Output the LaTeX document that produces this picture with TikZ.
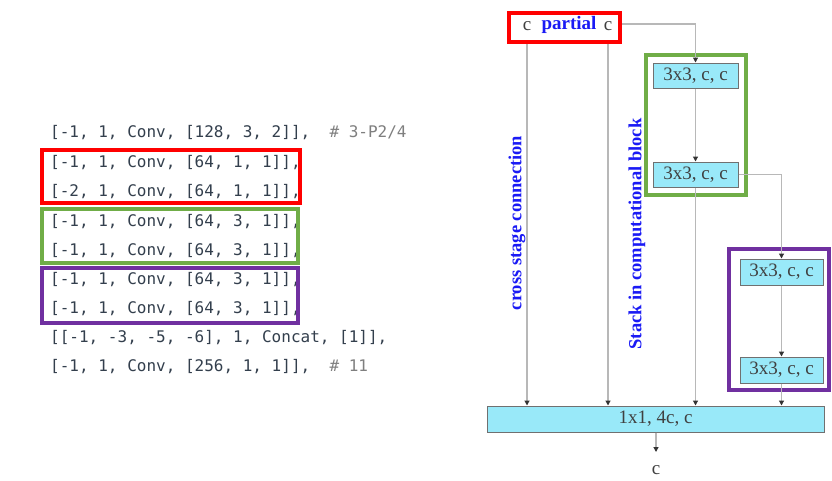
\documentclass[tikz,border=0pt]{standalone}
\usepackage{fontspec}
\setmainfont{Liberation Serif}
\newfontfamily\codefont{DejaVu Sans Mono}
\usetikzlibrary{arrows.meta}
\definecolor{codec}{HTML}{333F4D}
\definecolor{cmt}{HTML}{7F7F7F}
\definecolor{rd}{HTML}{FF0000}
\definecolor{gr}{HTML}{70AD47}
\definecolor{pu}{HTML}{7030A0}
\definecolor{bl}{HTML}{1A1AF5}
\definecolor{cy}{HTML}{99E9F9}
\definecolor{bd}{HTML}{707070}
\definecolor{ln}{HTML}{B8B8B8}
\definecolor{tx}{HTML}{404040}
\tikzset{
  code/.style={anchor=west, inner sep=0pt, font=\codefont\fontsize{16}{18}\selectfont, text=codec},
  hl/.style={draw, line width=4pt},
  blk/.style={draw=bd, fill=cy, line width=1pt, inner sep=0pt, text=tx, font=\fontsize{19}{21}\selectfont},
  conn/.style={draw=ln, line width=1.2pt},
  arr/.style={conn, -{Triangle[length=5pt,width=5pt,color=black!80]}},
  vlab/.style={rotate=90, text=bl, font=\bfseries\fontsize{18.5}{20}\selectfont, inner sep=0pt},
  clab/.style={text=tx, inner sep=0pt, font=\fontsize{19}{21}\selectfont}
}
\begin{document}
\begin{tikzpicture}[x=1pt,y=-1pt]
\useasboundingbox (0,0) rectangle (832,480);
\fill[white] (0,0) rectangle (832,480);
% code listing
\node[code] (l1) at (50,133) {[-1, 1, Conv, [128, 3, 2]],~~{\color{cmt}\# 3-P2/4}};
\node[code] (l2) at (50,163) {[-1, 1, Conv, [64, 1, 1]],};
\node[code] (l3) at (50,192) {[-2, 1, Conv, [64, 1, 1]],};
\node[code] (l4) at (50,222) {[-1, 1, Conv, [64, 3, 1]],};
\node[code] (l5) at (50,251) {[-1, 1, Conv, [64, 3, 1]],};
\node[code] (l6) at (50,280) {[-1, 1, Conv, [64, 3, 1]],};
\node[code] (l7) at (50,309) {[-1, 1, Conv, [64, 3, 1]],};
\node[code] (l8) at (50,338) {[[-1, -3, -5, -6], 1, Concat, [1]],};
\node[code] (l9) at (50,367) {[-1, 1, Conv, [256, 1, 1]],~~{\color{cmt}\# 11}};
\draw[hl, rd] (42,150) rectangle (300,203);
\draw[hl, gr] (42,209) rectangle (298,263);
\draw[hl, pu] (42,268) rectangle (298,323);
% diagram
\node[draw=rd, line width=4pt, minimum width=111pt, minimum height=29pt, inner sep=0pt] (part) at (564.5,27.5) {};
\node[clab] (c1) at (527,26) {c};
\node[text=bl, inner sep=0pt, font=\bfseries\fontsize{19}{21}\selectfont] (pl) at (569,25) {partial};
\node[clab] (c2) at (608,26) {c};
\node[blk, minimum width=85pt, minimum height=25pt] (b1) at (695.5,75.5) {3x3, c, c};
\node[blk, minimum width=85pt, minimum height=25pt] (b2) at (695.5,174.5) {3x3, c, c};
\node[blk, minimum width=83pt, minimum height=26pt] (b3) at (781.5,272) {3x3, c, c};
\node[blk, minimum width=83pt, minimum height=26pt] (b4) at (781.5,370) {3x3, c, c};
\node[blk, minimum width=337pt, minimum height=26pt] (big) at (655.5,419) {1x1, 4c, c};
\draw[hl, gr] (646,55) rectangle (746,195);
\draw[hl, pu] (729,249) rectangle (829,390);
\node[vlab] (cs) at (517,223) {cross stage connection};
\node[vlab] (st) at (637,234) {Stack in computational block};
\coordinate (pA) at (527,44);
\coordinate (pB) at (608,44);
\coordinate (pR) at (622,24);
\node[clab] (cout) at (656,470) {c};
\coordinate (oend) at (656,452);
% connectors
\draw[arr] (pR) -| (b1.north);
\draw[arr] (b1) -- (b2);
\draw[arr] (b2.east) -| (b3.north);
\draw[arr] (b3) -- (b4);
\draw[arr] (b4.south) -- (big.north -| b4.south);
\draw[arr] (b2.south) -- (big.north -| b2.south);
\draw[arr] (pA) -- (big.north -| pA);
\draw[arr] (pB) -- (big.north -| pB);
\draw[arr] (big.south -| oend) -- (oend);
\end{tikzpicture}
\end{document}
